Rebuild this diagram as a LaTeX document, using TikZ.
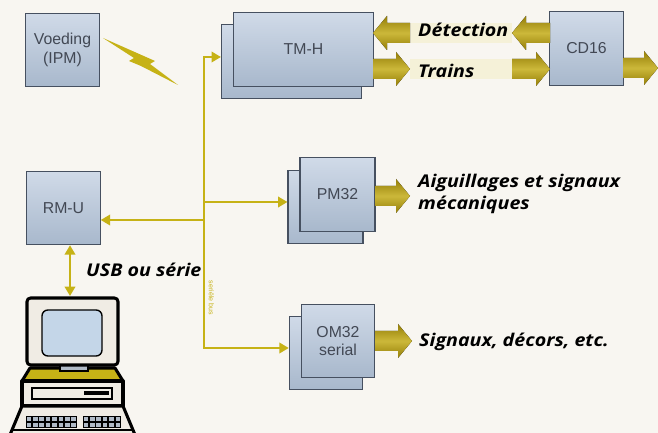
\documentclass[tikz,border=0pt]{standalone}
\usepackage{fontspec}
\setmainfont{Liberation Sans}
\newfontfamily\flowfont[FakeStretch=1.12]{Open Sans}
\usetikzlibrary{arrows.meta,positioning}

\definecolor{paper}{RGB}{248,246,241}
\definecolor{boxtop}{RGB}{208,218,232}
\definecolor{boxbot}{RGB}{168,184,204}
\definecolor{boxline}{RGB}{70,80,96}
\definecolor{boxtext}{RGB}{66,72,84}
\definecolor{busyellow}{RGB}{198,178,22}
\definecolor{oliveD}{RGB}{148,126,8}
\definecolor{oliveL}{RGB}{204,184,58}
\definecolor{band}{RGB}{245,241,216}
\definecolor{screen}{RGB}{196,214,232}
\definecolor{casing}{RGB}{240,236,228}
\definecolor{keygray}{RGB}{176,186,198}

\tikzset{
  module/.style={draw=boxline, line width=1pt, top color=boxtop, bottom color=boxbot,
    text=boxtext, font=\fontsize{13.5}{16}\selectfont, align=center,
    minimum width=2.2cm, minimum height=2.2cm, inner sep=0pt},
  wire/.style={draw=busyellow, line width=1.6pt, -{Triangle[length=8pt,width=9pt]}},
  flow/.style={font=\flowfont\bfseries\itshape\fontsize{15}{19.5}\selectfont,
    anchor=west, align=left, inner sep=0pt},
  pcline/.style={draw=black, line width=2.6pt, line join=round},
  pics/fat/.style={code={
    \fill[top color=oliveD, bottom color=oliveD, middle color=oliveL]
      (0,-10) -- ({#1-14},-10) -- ({#1-14},-17) -- (#1,0) -- ({#1-14},17)
      -- ({#1-14},10) -- (0,10) -- cycle;}},
}

\begin{document}
\begin{tikzpicture}[x=0.03cm, y=-0.03cm]
    \fill[paper] (0,0) rectangle (658,433);
    \useasboundingbox (0,0) rectangle (658,433);

    % modules (back copies first)
    \node[module] (ipm) at (62.5,50) {Voeding\\(IPM)};
    \node[module, minimum width=4.2cm] (tmhB) at (291.5,61.5) {};
    \node[module, minimum width=4.2cm] (tmh) at (303.5,49.5) {TM-H};
    \node[module] (cd) at (586.5,48.5) {CD16};
    \node[module] (rmu) at (63.5,208) {RM-U};
    \node[module, minimum width=2.25cm] (pmB) at (325.5,207) {};
    \node[module, minimum width=2.25cm] (pm) at (337.5,194.5) {PM32};
    \node[module] (omB) at (326,353) {};
    \node[module] (om) at (338,341) {OM32\\serial};

    % power from the IPM
    \fill[busyellow] (103,38) -- (146,57) -- (155,61) -- (150,64) -- (178,85)
        -- (141,66) -- (129,61) -- (134,58) -- cycle;

    % bus
    \coordinate (busTop) at (204,57);
    \coordinate (tapPM) at (204,202);
    \coordinate (tapRM) at (204,220);
    \coordinate (busEnd) at (204,348);
    \draw[wire] (tapPM) -- (busTop) -- (tmhB.west |- busTop);
    \draw[wire] (tapPM) -- (busEnd) -- (omB.west |- busEnd);
    \draw[wire] (tapPM) -- (pmB.west |- tapPM);
    \draw[wire] (tapRM) -- (rmu.east |- tapRM);
    \node[rotate=-90, text=busyellow, font=\fontsize{6}{7}\selectfont] (buslbl) at (211.5,298) {seriële bus};

    % RM-U to the computer
    \coordinate (pcTop) at (70,296);
    \draw[wire, {Triangle[length=8pt,width=9pt]}-{Triangle[length=8pt,width=9pt]}]
        (pcTop |- rmu.south) -- (pcTop);
    \node[flow] (usb) at (86,270) {USB ou série};

    % TM-H <-> CD16
    \fill[band] (410,23) rectangle (512,43);
    \fill[band] (410,59) rectangle (512,79);
    \pic[rotate=180] at (410,33) {fat=37};
    \pic[rotate=180] at (550,33) {fat=38};
    \pic at (373,69) {fat=37};
    \pic at (512,69) {fat=38};
    \pic at (623,68) {fat=35};
    \node[flow] (det) at (418,30) {Détection};
    \node[flow] (trn) at (418,71) {Trains};

    % outputs
    \pic at (375,196) {fat=35};
    \node[flow] (aig) at (418,194) {Aiguillages et signaux\\mécaniques};
    \pic at (375,341) {fat=37};
    \node[flow] (sig) at (419,342) {Signaux, décors, etc.};

    % computer
    \draw[pcline, fill=busyellow] (30,368) -- (115,368) -- (123,381) -- (22,381) -- cycle;
    \draw[draw=black, line width=1pt, fill=keygray] (60,364) rectangle (88,371);
    \draw[pcline, fill=casing, rounded corners=3pt] (27,298) rectangle (118,365);
    \draw[draw=black, line width=1.2pt, fill=screen, rounded corners=5pt] (42,310) rectangle (102,356);
    \draw[pcline, fill=casing] (22,381) rectangle (123,406);
    \draw[draw=black, line width=1pt, fill=casing] (32,388) rectangle (112,399);
    \fill[black] (84,391.5) rectangle (109,395);
    \draw[pcline, fill=casing] (22,406) -- (123,406) -- (138,442) -- (7,442) -- cycle;
    \foreach \r in {0,1} {
        \foreach \k in {0,...,7}
            \draw[line width=0.6pt, fill=keygray] ({26+\k*6.4},{416+\r*6}) rectangle +(5.6,5);
        \foreach \k in {0,...,5}
            \draw[line width=0.6pt, fill=keygray] ({83+\k*6.4},{416+\r*6}) rectangle +(5.6,5);
    }
    \draw[line width=1.2pt] (13,430) -- (132,430);
\end{tikzpicture}
\end{document}
